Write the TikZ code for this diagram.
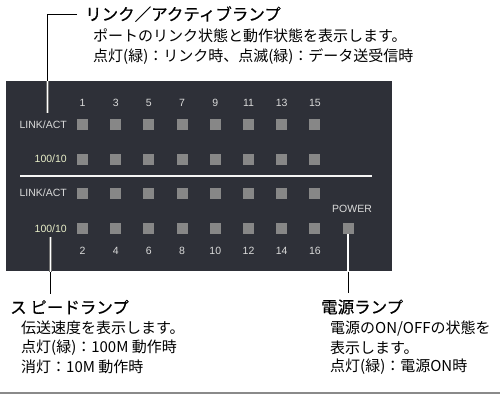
\documentclass[tikz,border=0pt]{standalone}
\usepackage{fontspec}
\setmainfont{Noto Sans CJK JP}
\newfontfamily\panelfont{Liberation Sans}
\newfontfamily\headfont[FakeBold=0.4]{Noto Sans CJK JP}

\definecolor{panelbg}{HTML}{2E3038}
\definecolor{ledgray}{HTML}{878787}
\definecolor{paneltext}{HTML}{DADADA}
\definecolor{speedtext}{HTML}{E8EEC8}
\definecolor{rulegray}{HTML}{8A8A8A}

\tikzset{
  led/.style={fill=ledgray, minimum size=11pt, inner sep=0pt},
  num/.style={text=paneltext, inner sep=0pt, font=\panelfont\fontsize{10.5}{12}\selectfont},
  rowlabel/.style={num, anchor=east},
  lamptitle/.style={anchor=west, inner sep=0pt, font=\headfont\fontsize{16.5}{20}\selectfont},
  lampdesc/.style={anchor=west, inner sep=0pt, font=\fontsize{15}{18}\selectfont},
  callout/.style={draw=black, line width=0.6pt},
  calloutin/.style={draw=black!55, line width=0.7pt, double=white, double distance=1.5pt},
}

\begin{document}
\begin{tikzpicture}[x=1pt,y=-1pt]
\useasboundingbox (0,0) rectangle (500,394);

% panel
\fill[panelbg] (6,81) rectangle (392,271);
\draw[white!92!gray, line width=1.5pt] (20,176) -- (372,176);

% port numbers
\node[num] (n1) at (82.5,103) {1};
\node[num] (n3) at (115.7,103) {3};
\node[num] (n5) at (148.9,103) {5};
\node[num] (n7) at (182.1,103) {7};
\node[num] (n9) at (215.3,103) {9};
\node[num] (n11) at (248.5,103) {11};
\node[num] (n13) at (281.7,103) {13};
\node[num] (n15) at (314.9,103) {15};
\node[num] (n2) at (82.5,251) {2};
\node[num] (n4) at (115.7,251) {4};
\node[num] (n6) at (148.9,251) {6};
\node[num] (n8) at (182.1,251) {8};
\node[num] (n10) at (215.3,251) {10};
\node[num] (n12) at (248.5,251) {12};
\node[num] (n14) at (281.7,251) {14};
\node[num] (n16) at (314.9,251) {16};

% row labels
\node[rowlabel] (lnkact1) at (67,124.5) {LINK/ACT};
\node[rowlabel, text=speedtext] (spd1) at (67,159) {100/10};
\node[rowlabel] (lnkact2) at (67,193) {LINK/ACT};
\node[rowlabel, text=speedtext] (spd2) at (67,228.5) {100/10};

% lamps, odd ports
\node[led] (la1) at (82.5,124.5) {};
\node[led] (la3) at (115.7,124.5) {};
\node[led] (la5) at (148.9,124.5) {};
\node[led] (la7) at (182.1,124.5) {};
\node[led] (la9) at (215.3,124.5) {};
\node[led] (la11) at (248.5,124.5) {};
\node[led] (la13) at (281.7,124.5) {};
\node[led] (la15) at (314.9,124.5) {};
\node[led] (sp1) at (82.5,159) {};
\node[led] (sp3) at (115.7,159) {};
\node[led] (sp5) at (148.9,159) {};
\node[led] (sp7) at (182.1,159) {};
\node[led] (sp9) at (215.3,159) {};
\node[led] (sp11) at (248.5,159) {};
\node[led] (sp13) at (281.7,159) {};
\node[led] (sp15) at (314.9,159) {};

% lamps, even ports
\node[led] (la2) at (82.5,193) {};
\node[led] (la4) at (115.7,193) {};
\node[led] (la6) at (148.9,193) {};
\node[led] (la8) at (182.1,193) {};
\node[led] (la10) at (215.3,193) {};
\node[led] (la12) at (248.5,193) {};
\node[led] (la14) at (281.7,193) {};
\node[led] (la16) at (314.9,193) {};
\node[led] (sp2) at (82.5,228.5) {};
\node[led] (sp4) at (115.7,228.5) {};
\node[led] (sp6) at (148.9,228.5) {};
\node[led] (sp8) at (182.1,228.5) {};
\node[led] (sp10) at (215.3,228.5) {};
\node[led] (sp12) at (248.5,228.5) {};
\node[led] (sp14) at (281.7,228.5) {};
\node[led] (sp16) at (314.9,228.5) {};

% power
\node[num] (pwr) at (352,209) {POWER};
\node[led] (pwrled) at (348,228.5) {};

% explanations
\node[lamptitle] (linktitle) at (85,14) {リンク／アクティブランプ};
\node[lampdesc] (linkdesc1) at (93,36) {ポートのリンク状態と動作状態を表示します。};
\node[lampdesc] (linkdesc2) at (93,57) {点灯(緑)：リンク時、点滅(緑)：データ送受信時};

\node[lamptitle] (spdtitle) at (10,307) {ス ピードランプ};
\node[lampdesc] (spddesc1) at (21,328) {伝送速度を表示します。};
\node[lampdesc] (spddesc2) at (21,347.5) {点灯(緑)：100M 動作時};
\node[lampdesc] (spddesc3) at (21,367) {消灯：10M 動作時};

\node[lamptitle] (pwrtitle) at (321,307) {電源ランプ};
\node[lampdesc] (pwrdesc1) at (330,328) {電源のON/OFFの状態を};
\node[lampdesc] (pwrdesc2) at (330,347.5) {表示します。};
\node[lampdesc] (pwrdesc3) at (330,367) {点灯(緑)：電源ON時};

% leader lines
\coordinate (linkend) at (47.5,113);
\draw[callout] ([xshift=-8pt]linktitle.west) -| (linkend);
\draw[callout, shorten <=4pt, shorten >=6pt] (spd2.south) -- (spd2.south |- spdtitle.north);
\draw[callout, shorten >=6pt] (pwrled.south) -- (pwrled.south |- pwrtitle.north);
\begin{scope}
  \clip (6,81) rectangle (392,271);
  \draw[calloutin] ([xshift=-8pt]linktitle.west) -| (linkend);
  \draw[calloutin, shorten <=4pt] (spd2.south) -- (spd2.south |- spdtitle.north);
  \draw[calloutin] (pwrled.south) -- (pwrled.south |- pwrtitle.north);
\end{scope}

% bottom rule
\draw[rulegray, line width=1.5pt] (0,393.2) -- (500,393.2);
\end{tikzpicture}
\end{document}
